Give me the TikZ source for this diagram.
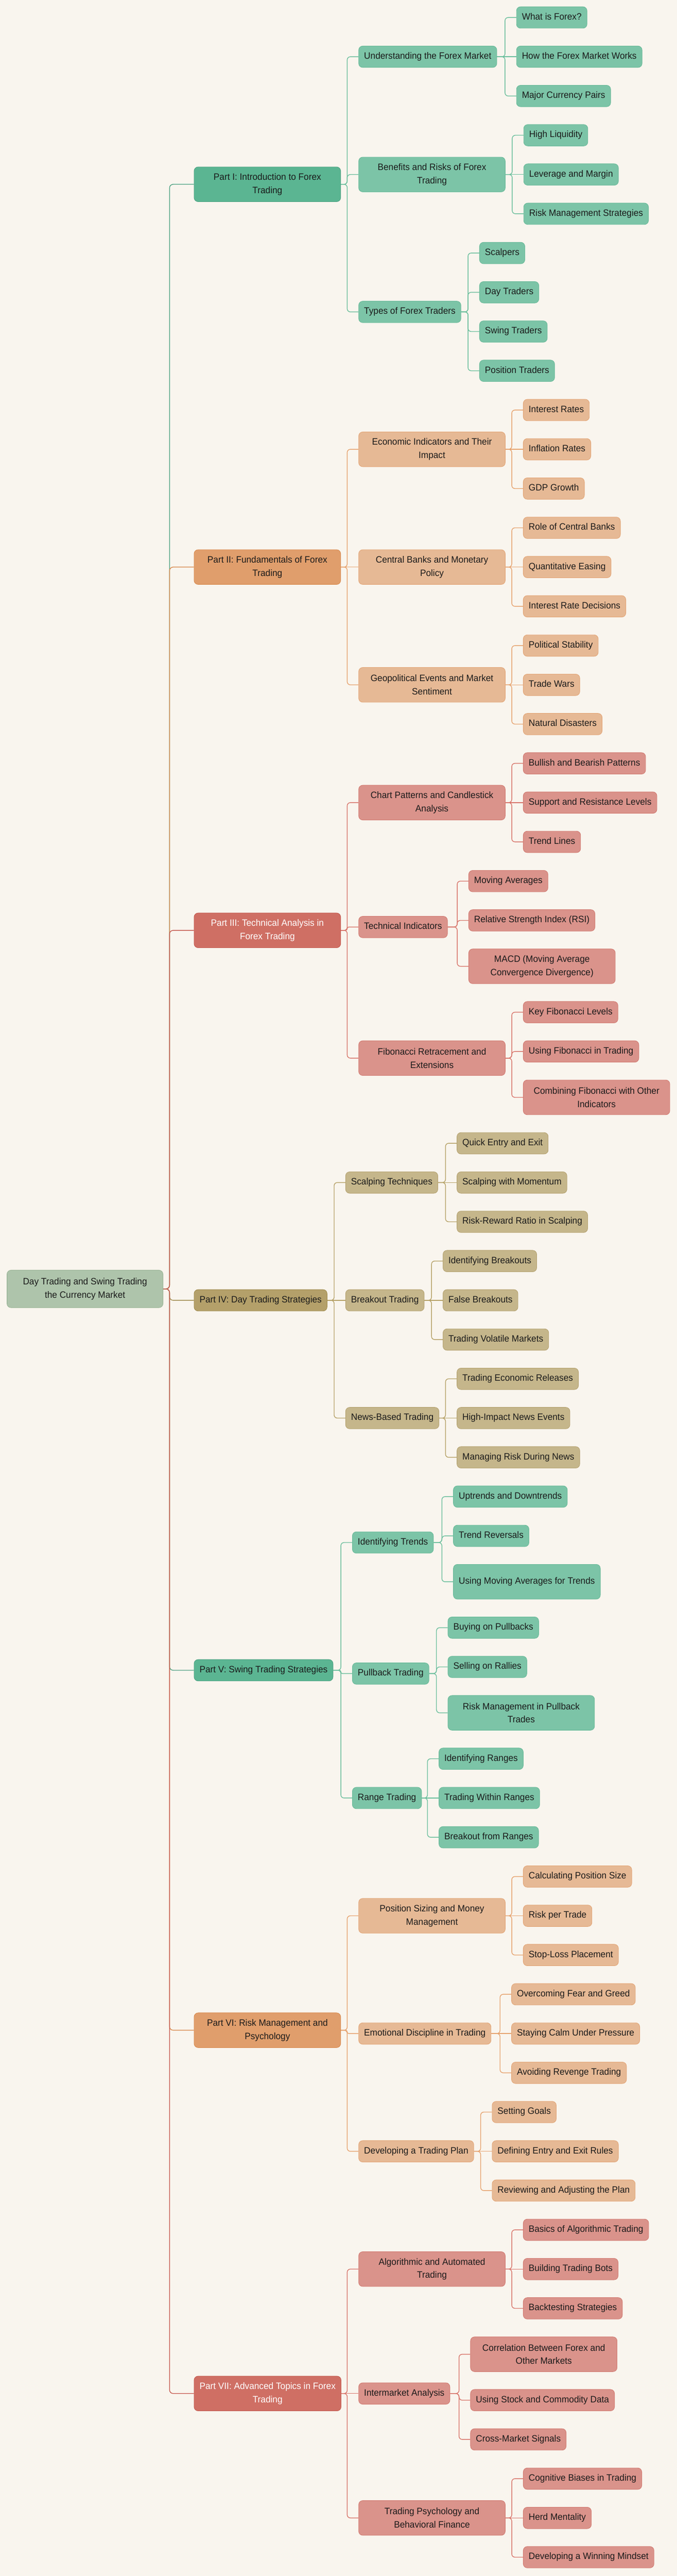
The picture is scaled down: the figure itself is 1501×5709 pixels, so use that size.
\documentclass[tikz,border=0pt]{standalone}
\usepackage{fontspec}
\setmainfont[FakeStretch=0.96]{Liberation Sans}
\usetikzlibrary{backgrounds}
\definecolor{bgc}{HTML}{F9F5EE}
\definecolor{rootf}{HTML}{AEC4AB}\definecolor{rootd}{HTML}{98B394}
\definecolor{gpf}{HTML}{5BB592}\definecolor{gpd}{HTML}{4FA283}
\definecolor{gcf}{HTML}{7CC4A7}\definecolor{gcd}{HTML}{6ABA99}\definecolor{gln}{HTML}{6CBF9D}
\definecolor{opf}{HTML}{E09E6C}\definecolor{opd}{HTML}{D98B50}
\definecolor{ocf}{HTML}{E6B995}\definecolor{ocd}{HTML}{E3A576}\definecolor{oln}{HTML}{E6A36F}
\definecolor{rpf}{HTML}{CF6F64}\definecolor{rpd}{HTML}{C55A50}
\definecolor{rcf}{HTML}{DA938B}\definecolor{rcd}{HTML}{D27B72}\definecolor{rln}{HTML}{D8766C}
\definecolor{kpf}{HTML}{B4A06A}\definecolor{kpd}{HTML}{A18C4F}
\definecolor{kcf}{HTML}{C5B68B}\definecolor{kcd}{HTML}{B5A270}\definecolor{kln}{HTML}{B6A268}
\definecolor{txt}{HTML}{1A1A1A}
\newcommand\fs{\fontsize{20.5}{29.5}\selectfont}
\newcommand\conn[3][rounded corners=7pt]{\draw[#1] (#2.east) -| ([xshift=-25pt]#3.west) -- (#3.west);}
\newcommand\rconn[3][rounded corners=8pt]{\draw[#1] (#2.east) -- ++(14,0) |- (#3.west);}
\tikzset{
  box/.style={draw, rounded corners=9pt, line width=1pt, inner xsep=12pt, inner ysep=0pt, anchor=west, font=\fs, text=txt},
  one/.style={minimum height=47.5pt, text height=14.5pt, text depth=4.5pt},
  two/.style={minimum height=77pt, minimum width=325pt, align=center},
  gp/.style={box, fill=gpf, draw=gpd}, gc/.style={box, fill=gcf, draw=gcd},
  op/.style={box, fill=opf, draw=opd}, oc/.style={box, fill=ocf, draw=ocd},
  rp/.style={box, fill=rpf, draw=rpd, text=white}, rc/.style={box, fill=rcf, draw=rcd},
  kp/.style={box, fill=kpf, draw=kpd}, kc/.style={box, fill=kcf, draw=kcd},
  ln/.style={line width=1.6pt}
}
\begin{document}
\begin{tikzpicture}[x=1pt,y=-1pt]
\useasboundingbox (0,0) rectangle (1501,5709);
% root
\node[box, fill=rootf, draw=rootd, minimum width=346pt, align=center, minimum height=83pt] (root) at (15,2856.5) {Day Trading and Swing Trading\\the Currency Market};
% parts
\node[gp,two] (p1) at (430,408.5) {Part I: Introduction to Forex\\Trading};
\node[op,two] (p2) at (430,1256.75) {Part II: Fundamentals of Forex\\Trading};
\node[rp,two] (p3) at (430,2061.875) {Part III: Technical Analysis in\\Forex Trading};
\node[kp,one] (p4) at (430,2881.75) {Part IV: Day Trading Strategies};
\node[gp,one] (p5) at (430,3701.625) {Part V: Swing Trading Strategies};
\node[op,two] (p6) at (430,4499.375) {Part VI: Risk Management and\\Psychology};
\node[rp,two] (p7) at (430,5304.5) {Part VII: Advanced Topics in Forex\\Trading};
% Part I
\node[gc,one] (m1) at (795,125.75) {Understanding the Forex Market};
\node[gc,two] (m2) at (795,386.75) {Benefits and Risks of Forex\\Trading};
\node[gc,one] (m3) at (795,691.25) {Types of Forex Traders};
\node[gc,one] (l1) at (1145,38.75) {What is Forex?};
\node[gc,one] (l2) at (1145,125.75) {How the Forex Market Works};
\node[gc,one] (l3) at (1145,212.75) {Major Currency Pairs};
\node[gc,one] (l4) at (1161,299.75) {High Liquidity};
\node[gc,one] (l5) at (1161,386.75) {Leverage and Margin};
\node[gc,one] (l6) at (1161,473.75) {Risk Management Strategies};
\node[gc,one] (l7) at (1063,560.75) {Scalpers};
\node[gc,one] (l8) at (1063,647.75) {Day Traders};
\node[gc,one] (l9) at (1063,734.75) {Swing Traders};
\node[gc,one] (l10) at (1063,821.75) {Position Traders};
% Part II
\node[oc,two] (m4) at (795,995.75) {Economic Indicators and Their\\Impact};
\node[oc,two] (m5) at (795,1256.75) {Central Banks and Monetary\\Policy};
\node[oc,two] (m6) at (795,1517.75) {Geopolitical Events and Market\\Sentiment};
\node[oc,one] (l11) at (1160,908.75) {Interest Rates};
\node[oc,one] (l12) at (1160,995.75) {Inflation Rates};
\node[oc,one] (l13) at (1160,1082.75) {GDP Growth};
\node[oc,one] (l14) at (1160,1169.75) {Role of Central Banks};
\node[oc,one] (l15) at (1160,1256.75) {Quantitative Easing};
\node[oc,one] (l16) at (1160,1343.75) {Interest Rate Decisions};
\node[oc,one] (l17) at (1160,1430.75) {Political Stability};
\node[oc,one] (l18) at (1160,1517.75) {Trade Wars};
\node[oc,one] (l19) at (1160,1604.75) {Natural Disasters};
% Part III
\node[rc,two] (m7) at (795,1778.75) {Chart Patterns and Candlestick\\Analysis};
\node[rc,one] (m8) at (795,2054.5) {Technical Indicators};
\node[rc,two] (m9) at (795,2345) {Fibonacci Retracement and\\Extensions};
\node[rc,one] (l20) at (1160,1691.75) {Bullish and Bearish Patterns};
\node[rc,one] (l21) at (1160,1778.75) {Support and Resistance Levels};
\node[rc,one] (l22) at (1160,1865.75) {Trend Lines};
\node[rc,one] (l23) at (1039,1952.75) {Moving Averages};
\node[rc,one] (l24) at (1039,2039.75) {Relative Strength Index (RSI)};
\node[rc,two] (l25) at (1039,2141.5) {MACD (Moving Average\\Convergence Divergence)};
\node[rc,one] (l26) at (1160,2243.25) {Key Fibonacci Levels};
\node[rc,one] (l27) at (1160,2330.25) {Using Fibonacci in Trading};
\node[rc,two] (l28) at (1160,2432) {Combining Fibonacci with Other\\Indicators};
% Part IV
\node[kc,one] (m10) at (766,2620.75) {Scalping Techniques};
\node[kc,one] (m11) at (766,2881.75) {Breakout Trading};
\node[kc,one] (m12) at (766,3142.75) {News-Based Trading};
\node[kc,one] (l29) at (1013,2533.75) {Quick Entry and Exit};
\node[kc,one] (l30) at (1013,2620.75) {Scalping with Momentum};
\node[kc,one] (l31) at (1013,2707.75) {Risk-Reward Ratio in Scalping};
\node[kc,one] (l32) at (982,2794.75) {Identifying Breakouts};
\node[kc,one] (l33) at (982,2881.75) {False Breakouts};
\node[kc,one] (l34) at (982,2968.75) {Trading Volatile Markets};
\node[kc,one] (l35) at (1013,3055.75) {Trading Economic Releases};
\node[kc,one] (l36) at (1013,3142.75) {High-Impact News Events};
\node[kc,one] (l37) at (1013,3229.75) {Managing Risk During News};
% Part V
\node[gc,one] (m13) at (781,3418.5) {Identifying Trends};
\node[gc,one] (m14) at (781,3709) {Pullback Trading};
\node[gc,one] (m15) at (781,3984.75) {Range Trading};
\node[gc,one] (l38) at (1005,3316.75) {Uptrends and Downtrends};
\node[gc,one] (l39) at (1005,3403.75) {Trend Reversals};
\node[gc,two] (l40) at (1005,3505.5) {Using Moving Averages for Trends};
\node[gc,one] (l41) at (993,3607.25) {Buying on Pullbacks};
\node[gc,one] (l42) at (993,3694.25) {Selling on Rallies};
\node[gc,two] (l43) at (993,3796) {Risk Management in Pullback\\Trades};
\node[gc,one] (l44) at (973,3897.75) {Identifying Ranges};
\node[gc,one] (l45) at (973,3984.75) {Trading Within Ranges};
\node[gc,one] (l46) at (973,4071.75) {Breakout from Ranges};
% Part VI
\node[oc,two] (m16) at (795,4245.75) {Position Sizing and Money\\Management};
\node[oc,one] (m17) at (795,4506.75) {Emotional Discipline in Trading};
\node[oc,one] (m18) at (795,4767.75) {Developing a Trading Plan};
\node[oc,one] (l47) at (1160,4158.75) {Calculating Position Size};
\node[oc,one] (l48) at (1160,4245.75) {Risk per Trade};
\node[oc,one] (l49) at (1160,4332.75) {Stop-Loss Placement};
\node[oc,one] (l50) at (1134,4419.75) {Overcoming Fear and Greed};
\node[oc,one] (l51) at (1134,4506.75) {Staying Calm Under Pressure};
\node[oc,one] (l52) at (1134,4593.75) {Avoiding Revenge Trading};
\node[oc,one] (l53) at (1091,4680.75) {Setting Goals};
\node[oc,one] (l54) at (1091,4767.75) {Defining Entry and Exit Rules};
\node[oc,one] (l55) at (1091,4854.75) {Reviewing and Adjusting the Plan};
% Part VII
\node[rc,two] (m19) at (795,5028.75) {Algorithmic and Automated\\Trading};
\node[rc,one] (m20) at (795,5304.5) {Intermarket Analysis};
\node[rc,two] (m21) at (795,5580.25) {Trading Psychology and\\Behavioral Finance};
\node[rc,one] (l56) at (1160,4941.75) {Basics of Algorithmic Trading};
\node[rc,one] (l57) at (1160,5028.75) {Building Trading Bots};
\node[rc,one] (l58) at (1160,5115.75) {Backtesting Strategies};
\node[rc,two] (l59) at (1043,5217.5) {Correlation Between Forex and\\Other Markets};
\node[rc,one] (l60) at (1043,5319.25) {Using Stock and Commodity Data};
\node[rc,one] (l61) at (1043,5406.25) {Cross-Market Signals};
\node[rc,one] (l62) at (1160,5493.25) {Cognitive Biases in Trading};
\node[rc,one] (l63) at (1160,5580.25) {Herd Mentality};
\node[rc,one] (l64) at (1160,5667.25) {Developing a Winning Mindset};
\begin{pgfonlayer}{background}
\fill[bgc] (0,0) rectangle (1501,5709);
% root to parts
\begin{scope}[ln]
\rconn[draw=gpd, rounded corners=8pt]{root}{p1}
\rconn[draw=opd, rounded corners=8pt]{root}{p2}
\rconn[draw=rpd, rounded corners=8pt]{root}{p3}
\rconn[draw=kpd, rounded corners=8pt]{root}{p4}
\rconn[draw=gpd, rounded corners=8pt]{root}{p5}
\rconn[draw=opd, rounded corners=8pt]{root}{p6}
\rconn[draw=rpd, rounded corners=8pt]{root}{p7}
\end{scope}
\begin{scope}[ln, draw=gln]
\conn{p1}{m1}\conn{p1}{m2}\conn{p1}{m3}
\conn{m1}{l1}\conn[sharp corners]{m1}{l2}\conn{m1}{l3}
\conn{m2}{l4}\conn[sharp corners]{m2}{l5}\conn{m2}{l6}
\conn{m3}{l7}\conn{m3}{l8}\conn{m3}{l9}\conn{m3}{l10}
\conn{p5}{m13}\conn[rounded corners=3.5pt]{p5}{m14}\conn{p5}{m15}
\conn{m13}{l38}\conn{m13}{l39}\conn{m13}{l40}
\conn{m14}{l41}\conn{m14}{l42}\conn{m14}{l43}
\conn{m15}{l44}\conn[sharp corners]{m15}{l45}\conn{m15}{l46}
\end{scope}
\begin{scope}[ln, draw=oln]
\conn{p2}{m4}\conn[sharp corners]{p2}{m5}\conn{p2}{m6}
\conn{m4}{l11}\conn[sharp corners]{m4}{l12}\conn{m4}{l13}
\conn{m5}{l14}\conn[sharp corners]{m5}{l15}\conn{m5}{l16}
\conn{m6}{l17}\conn[sharp corners]{m6}{l18}\conn{m6}{l19}
\conn{p6}{m16}\conn[rounded corners=3.5pt]{p6}{m17}\conn{p6}{m18}
\conn{m16}{l47}\conn[sharp corners]{m16}{l48}\conn{m16}{l49}
\conn{m17}{l50}\conn[sharp corners]{m17}{l51}\conn{m17}{l52}
\conn{m18}{l53}\conn[sharp corners]{m18}{l54}\conn{m18}{l55}
\end{scope}
\begin{scope}[ln, draw=rln]
\conn{p3}{m7}\conn[rounded corners=3.5pt]{p3}{m8}\conn{p3}{m9}
\conn{m7}{l20}\conn[sharp corners]{m7}{l21}\conn{m7}{l22}
\conn{m8}{l23}\conn{m8}{l24}\conn{m8}{l25}
\conn{m9}{l26}\conn{m9}{l27}\conn{m9}{l28}
\conn{p7}{m19}\conn[sharp corners]{p7}{m20}\conn{p7}{m21}
\conn{m19}{l56}\conn[sharp corners]{m19}{l57}\conn{m19}{l58}
\conn{m20}{l59}\conn{m20}{l60}\conn{m20}{l61}
\conn{m21}{l62}\conn[sharp corners]{m21}{l63}\conn{m21}{l64}
\end{scope}
\begin{scope}[ln, draw=kln]
\conn{p4}{m10}\conn[sharp corners]{p4}{m11}\conn{p4}{m12}
\conn{m10}{l29}\conn[sharp corners]{m10}{l30}\conn{m10}{l31}
\conn{m11}{l32}\conn[sharp corners]{m11}{l33}\conn{m11}{l34}
\conn{m12}{l35}\conn[sharp corners]{m12}{l36}\conn{m12}{l37}
\end{scope}
\end{pgfonlayer}
\end{tikzpicture}
\end{document}
